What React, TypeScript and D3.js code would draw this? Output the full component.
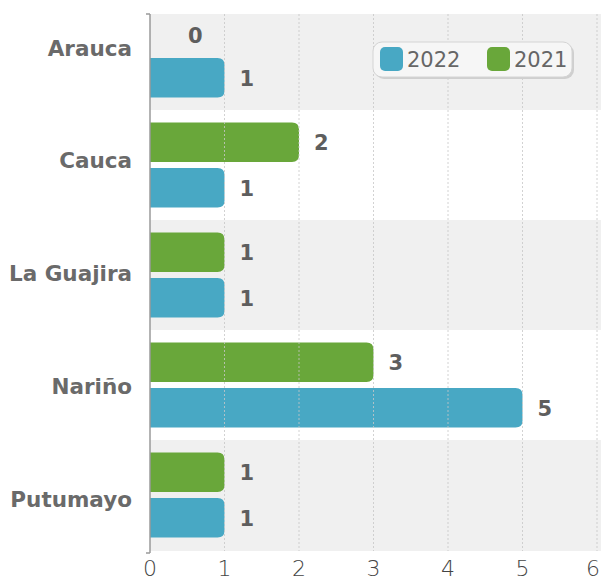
import React from "react";
import * as d3 from "d3";

const categories = ["Arauca", "Cauca", "La Guajira", "Nariño", "Putumayo"];
const series = ["2021", "2022"];
const values2021 = [0, 2, 1, 3, 1];
const values2022 = [1, 1, 1, 5, 1];
const xTicks = [0, 1, 2, 3, 4, 5, 6];
const legendItems = ["2022", "2021"];

const colors: Record<string, string> = { "2022": "#48a8c4", "2021": "#69a73a" };

const W = 601;
const H = 582;
const plotLeft = 150;
const plotRight = 597;
const plotTop = 14;
const plotBottom = 551;
const FONT = "'DejaVu Sans', sans-serif";

function roundRightRect(x0: number, y0: number, w: number, h: number, r: number) {
  const rr = Math.min(r, w / 2, h / 2);
  if (w <= 0) return "";
  return `M${x0},${y0}H${x0 + w - rr}Q${x0 + w},${y0} ${x0 + w},${y0 + rr}V${y0 + h - rr}Q${x0 + w},${y0 + h} ${x0 + w - rr},${y0 + h}H${x0}Z`;
}

export default function App() {
  const x = d3.scaleLinear().domain([0, 6]).range([plotLeft, plotRight]);
  const y0 = d3.scaleBand<string>().domain(categories).range([0, 550]).paddingInner(0).paddingOuter(0);
  const y1 = d3.scaleBand<string>().domain(series).range([12.5, 97.5]).paddingInner(0.13).paddingOuter(0);
  const labelY = d3.scalePoint<string>().domain(categories).range([48, 499]);

  const data = categories.map((c, i) => ({
    cat: c,
    vals: [
      { s: "2021", v: values2021[i] },
      { s: "2022", v: values2022[i] },
    ],
  }));

  return (
    <svg width={W} height={H} style={{ position: "absolute", left: 0, top: 0, background: "#fff" }}>
      <defs>
        <clipPath id="plotClip">
          <rect x={plotLeft} y={plotTop} width={W - plotLeft} height={plotBottom - plotTop} />
        </clipPath>
      </defs>
      <g clipPath="url(#plotClip)">
        <rect x={plotLeft} y={plotTop} width={W - plotLeft} height={plotBottom - plotTop} fill="#f0f0f0" />
        {categories.map((c, i) =>
          i % 2 === 1 ? (
            <rect key={c} x={plotLeft} y={y0(c)!} width={W - plotLeft} height={y0.bandwidth()} fill="#ffffff" />
          ) : null
        )}
        {data.map((d) =>
          d.vals.map((b) => (
            <path
              key={d.cat + b.s}
              d={roundRightRect(x(0), y0(d.cat)! + y1(b.s)!, x(b.v) - x(0), y1.bandwidth(), 7)}
              fill={colors[b.s]}
            />
          ))
        )}
        {xTicks.slice(1).map((t) => (
          <line
            key={t}
            x1={x(t)}
            x2={x(t)}
            y1={plotTop}
            y2={plotBottom}
            stroke="#c8c8c8"
            strokeWidth={1}
            strokeDasharray="2,2"
            opacity={0.8}
          />
        ))}
      </g>
      {/* axis */}
      <line x1={plotLeft} x2={plotLeft} y1={plotTop} y2={plotBottom + 2} stroke="#9a9a9a" strokeWidth={1.5} />
      <line x1={plotLeft - 4} x2={plotLeft} y1={plotTop} y2={plotTop} stroke="#9a9a9a" strokeWidth={1.5} />
      <line x1={plotLeft - 4} x2={plotLeft} y1={plotBottom + 2} y2={plotBottom + 2} stroke="#9a9a9a" strokeWidth={1.5} />
      {/* category labels */}
      {categories.map((c) => (
        <text
          key={c}
          x={132}
          y={labelY(c)!}
          textAnchor="end"
          dominantBaseline="central"
          fontFamily={FONT}
          fontWeight={700}
          fontSize={21.5}
          fill="#6a6a6a"
        >
          {c}
        </text>
      ))}
      {/* value labels */}
      {data.map((d) =>
        d.vals.map((b) => (
          <text
            key={"l" + d.cat + b.s}
            x={x(b.v) + (b.v === 0 ? 38 : 15)}
            y={y0(d.cat)! + y1(b.s)! + y1.bandwidth() / 2 + (b.v === 0 ? 4 : 1)}
            dominantBaseline="central"
            fontFamily={FONT}
            fontWeight={700}
            fontSize={21}
            fill="#5e5e5e"
          >
            {b.v}
          </text>
        ))
      )}
      {/* x tick labels */}
      {xTicks.map((t, i) => {
        const last = i === xTicks.length - 1;
        return (
          <text
            key={"t" + t}
            x={last ? W - 1 : x(t)}
            y={576}
            textAnchor={last ? "end" : "middle"}
            fontFamily={FONT}
            fontWeight={200}
            fontSize={22}
            fill="#444"
          >
            {t}
          </text>
        );
      })}
      {/* legend */}
      <g>
        <rect x={375} y={44} width={199} height={35} rx={9} fill="#cfcfcf" />
        <rect x={373} y={42} width={199} height={35} rx={9} fill="#f6f6f6" stroke="#d4d4d4" strokeWidth={1} />
        {legendItems.map((s, i) => {
          const lx = 380 + i * 107;
          return (
            <g key={s}>
              <rect x={lx} y={47} width={23} height={24} rx={5} fill={colors[s]} />
              <text
                x={lx + 27}
                y={60}
                dominantBaseline="central"
                fontFamily={FONT}
                fontWeight={400}
                fontSize={21}
                fill="#666"
              >
                {s}
              </text>
            </g>
          );
        })}
      </g>
    </svg>
  );
}
